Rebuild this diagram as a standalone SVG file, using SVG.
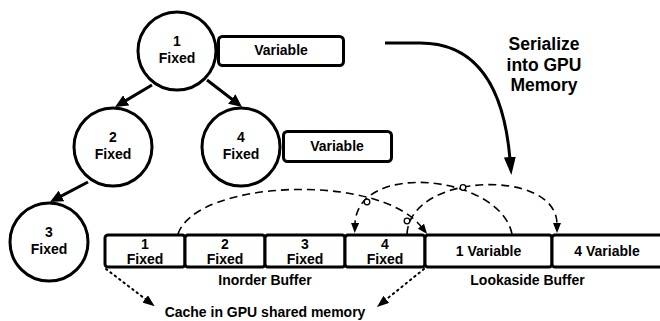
<svg xmlns="http://www.w3.org/2000/svg" width="660" height="321" viewBox="0 0 660 321">
<defs>
<style>
text{font-family:"Liberation Sans",Arial,sans-serif;font-weight:bold;fill:#000;text-anchor:middle}
.t14{font-size:14px}
.t17{font-size:17.5px}
.node{fill:#fff;stroke:#000;stroke-width:3}
.cell{fill:#fff;stroke:#000;stroke-width:3}
.edge{fill:none;stroke:#000;stroke-width:3}
.dash{fill:none;stroke:#000;stroke-width:1.6;stroke-dasharray:8 5}
.dot{fill:none;stroke:#000;stroke-width:2;stroke-dasharray:1.5 4;stroke-linecap:round}
.hop{fill:#fff;stroke:#000;stroke-width:1.3}
</style>
<marker id="ah" markerUnits="userSpaceOnUse" markerWidth="14" markerHeight="12" refX="2" refY="6" orient="auto"><path d="M0,0 L13,6 L0,12 z" fill="#000"/></marker>
<marker id="ahBig" markerUnits="userSpaceOnUse" markerWidth="18" markerHeight="12" refX="2" refY="6" orient="auto"><path d="M0,0 L18,6 L0,12 z" fill="#000"/></marker>
<marker id="ahS" markerUnits="userSpaceOnUse" markerWidth="10" markerHeight="8" refX="1" refY="4" orient="auto"><path d="M0,0 L10,4 L0,8 z" fill="#000"/></marker>
<marker id="ahD" markerUnits="userSpaceOnUse" markerWidth="12" markerHeight="9" refX="1" refY="4.5" orient="auto"><path d="M0,0 L12,4.5 L0,9 z" fill="#000"/></marker>
</defs>
<rect width="660" height="321" fill="#fff"/>

<g id="connectors">
<line class="edge" x1="152" y1="85" x2="124.5" y2="101.4" marker-end="url(#ah)"/>
<line class="edge" x1="207" y1="80" x2="233.3" y2="100.3" marker-end="url(#ah)"/>
<line class="edge" x1="88" y1="182" x2="59.7" y2="196.9" marker-end="url(#ah)"/>
<path class="edge" d="M385,43 L420,43 Q500,43 510,159" marker-end="url(#ahBig)"/>
<path class="dash" d="M178,234 C196,180 378,172 421.5,227" marker-end="url(#ahS)"/>
<path class="dash" d="M512,234 C500,175 357,160 355,224" marker-end="url(#ahS)"/>
<path class="dash" d="M407,234 C410,172 557,168 557,224" marker-end="url(#ahS)"/>
<circle class="hop" cx="367" cy="202" r="2.8"/>
<circle class="hop" cx="407" cy="221" r="2.8"/>
<circle class="hop" cx="463" cy="187.5" r="2.8"/>
<line class="dot" x1="106" y1="269" x2="146" y2="299.5" marker-end="url(#ahD)"/>
<line class="dot" x1="424" y1="269" x2="385.5" y2="300" marker-end="url(#ahD)"/>
</g>

<g id="node1"><circle class="node" cx="177" cy="51" r="39"/><text class="t14" x="177" y="45.5">1</text><text class="t14" x="177" y="63">Fixed</text></g>
<g id="var1"><rect class="node" x="218.5" y="36.5" width="125" height="29" rx="4"/><text class="t14" x="281" y="55">Variable</text></g>
<g id="node2"><circle class="node" cx="113" cy="147" r="39"/><text class="t14" x="113" y="141.5">2</text><text class="t14" x="113" y="159">Fixed</text></g>
<g id="node4"><circle class="node" cx="241" cy="147" r="39"/><text class="t14" x="241" y="141.5">4</text><text class="t14" x="241" y="159">Fixed</text></g>
<g id="var4"><rect class="node" x="283.5" y="131.5" width="108" height="30" rx="4"/><text class="t14" x="337" y="151">Variable</text></g>
<g id="node3"><circle class="node" cx="49" cy="242" r="39"/><text class="t14" x="49" y="236.5">3</text><text class="t14" x="49" y="254">Fixed</text></g>

<g id="serialize-label"><text class="t17" x="544" y="50">Serialize</text><text class="t17" x="544" y="70.5">into GPU</text><text class="t17" x="544" y="91">Memory</text></g>

<g id="inorder-buffer">
<g id="cell1"><rect class="cell" x="105" y="235" width="80" height="32" rx="3"/><text class="t14" x="145" y="249">1</text><text class="t14" x="145" y="264">Fixed</text></g>
<g id="cell2"><rect class="cell" x="185" y="235" width="80" height="32" rx="3"/><text class="t14" x="225" y="249">2</text><text class="t14" x="225" y="264">Fixed</text></g>
<g id="cell3"><rect class="cell" x="265" y="235" width="80" height="32" rx="3"/><text class="t14" x="305" y="249">3</text><text class="t14" x="305" y="264">Fixed</text></g>
<g id="cell4"><rect class="cell" x="345" y="235" width="80" height="32" rx="3"/><text class="t14" x="385" y="249">4</text><text class="t14" x="385" y="264">Fixed</text></g>
<text class="t14" x="265" y="285">Inorder Buffer</text>
</g>
<g id="lookaside-buffer">
<g id="cellv1"><rect class="cell" x="425" y="235" width="127" height="32" rx="3"/><text class="t14" x="488.5" y="256">1 Variable</text></g>
<g id="cellv4"><rect class="cell" x="552" y="235" width="115" height="32" rx="3"/><text class="t14" x="607" y="256">4 Variable</text></g>
<text class="t14" x="527.5" y="285">Lookaside Buffer</text>
</g>
<g id="cache-label"><text class="t14" x="265" y="317">Cache in GPU shared memory</text></g>
</svg>
